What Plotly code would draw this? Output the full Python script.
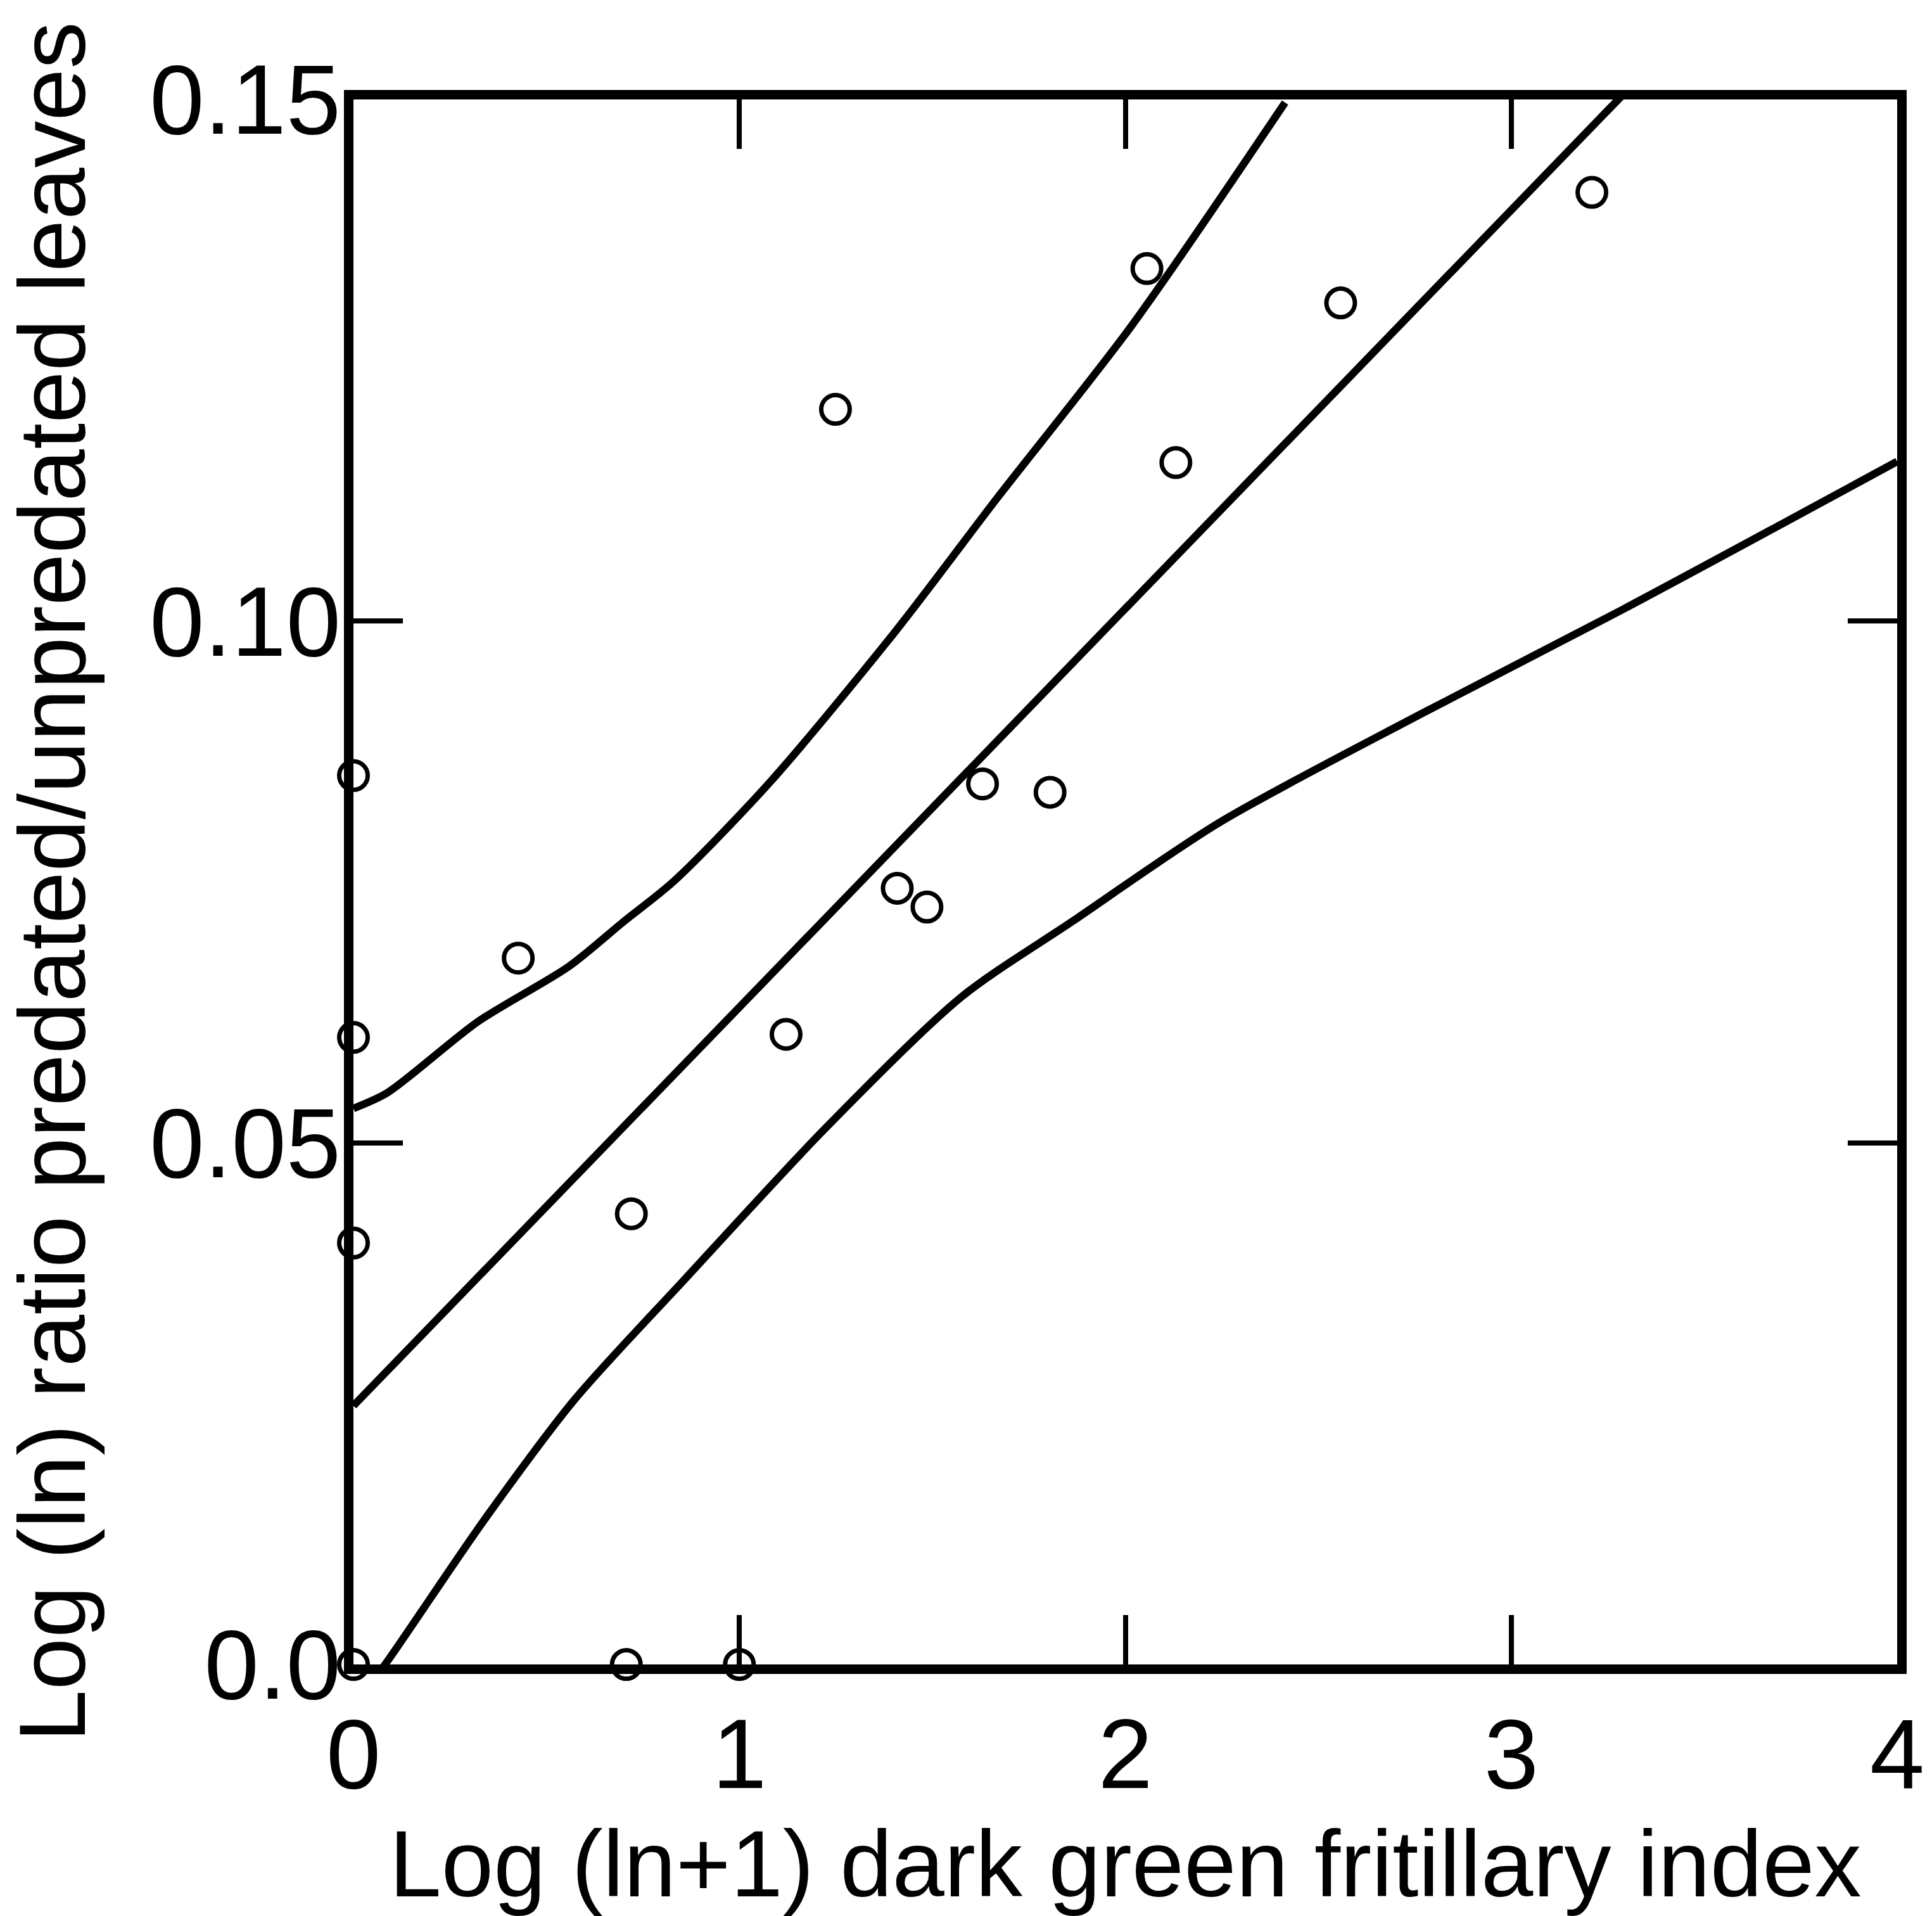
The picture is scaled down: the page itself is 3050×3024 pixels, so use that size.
import plotly.graph_objects as go

# Observed sites: butterfly index vs. leaf predation ratio
index_x = [0.0, 0.0, 0.0, 0.0, 0.427, 0.720, 0.707, 1.0, 1.121, 1.249,
           1.409, 1.486, 1.630, 1.805, 2.056, 2.131, 2.558, 3.209]
ratio_y = [0.0852, 0.0601, 0.0404, 0.0, 0.0677, 0.0432, 0.0, 0.0, 0.0604, 0.1203,
           0.0744, 0.0726, 0.0844, 0.0836, 0.1338, 0.1152, 0.1305, 0.1411]

# Fitted regression line (end points)
fit_x = [0.0, 4.0]
fit_y = [0.0248, 0.1776]

# Upper confidence limit
upper_x = [0.0, 0.088, 0.322, 0.558, 0.700, 0.831, 1.080, 1.406, 1.666, 2.016, 2.414]
upper_y = [0.0533, 0.0548, 0.0616, 0.0669, 0.0712, 0.0751, 0.0846, 0.0991, 0.1117, 0.1283, 0.1497]

# Lower confidence limit
lower_x = [0.0, 0.082, 0.336, 0.571, 0.858, 1.223, 1.576, 1.862, 2.244, 2.766, 3.288, 4.0]
lower_y = [-0.0040, 0.0, 0.0137, 0.0253, 0.0369, 0.0514, 0.0640, 0.0712, 0.0807, 0.0911, 0.1011, 0.1153]

x_ticks = [0, 1, 2, 3, 4]
x_tick_text = ["0", "1", "2", "3", "4"]
y_ticks = [0.0, 0.05, 0.10, 0.15]
y_tick_text = ["0.0", "0.05", "0.10", "0.15"]

FONT = "Liberation Sans, Arial, Helvetica, sans-serif"
LINE_W = 12

fig = go.Figure()
for xs, ys, shape in [(upper_x, upper_y, "spline"), (fit_x, fit_y, "linear"),
                      (lower_x, lower_y, "spline")]:
    fig.add_trace(go.Scatter(x=xs, y=ys, mode="lines",
                             line=dict(color="black", width=LINE_W, shape=shape,
                                       smoothing=0.8 if shape == "spline" else None),
                             showlegend=False, hoverinfo="skip"))

fig.add_trace(go.Scatter(x=index_x, y=ratio_y, mode="markers",
                         marker=dict(symbol="circle-open", size=45,
                                     color="black", line=dict(width=7, color="black")),
                         cliponaxis=False, showlegend=False))

axis_common = dict(
    showgrid=False, zeroline=False,
    showline=True, linecolor="black", linewidth=15, mirror="ticks",
    ticks="inside", ticklen=78, tickwidth=8, tickcolor="black",
    tickfont=dict(family=FONT, size=155, color="black"),
)

fig.update_xaxes(
    range=[0, 4], tickmode="array", tickvals=x_ticks, ticktext=x_tick_text,
    ticklabelstandoff=-6,
    title=dict(text="Log (ln+1) dark green fritillary index",
               font=dict(family=FONT, size=148, color="black"), standoff=52),
    **axis_common,
)
fig.update_yaxes(
    range=[0, 0.15], tickmode="array", tickvals=y_ticks, ticktext=y_tick_text,
    ticklabelstandoff=-26,
    title=dict(text="Log (ln) ratio predated/unpredated leaves",
               font=dict(family=FONT, size=148, color="black"), standoff=66),
    **axis_common,
)

fig.update_layout(
    width=3050, height=3024,
    margin=dict(l=558, r=48, t=157, b=397),
    paper_bgcolor="white", plot_bgcolor="white",
    font=dict(family=FONT, color="black"),
)

fig.write_html("out.html")
